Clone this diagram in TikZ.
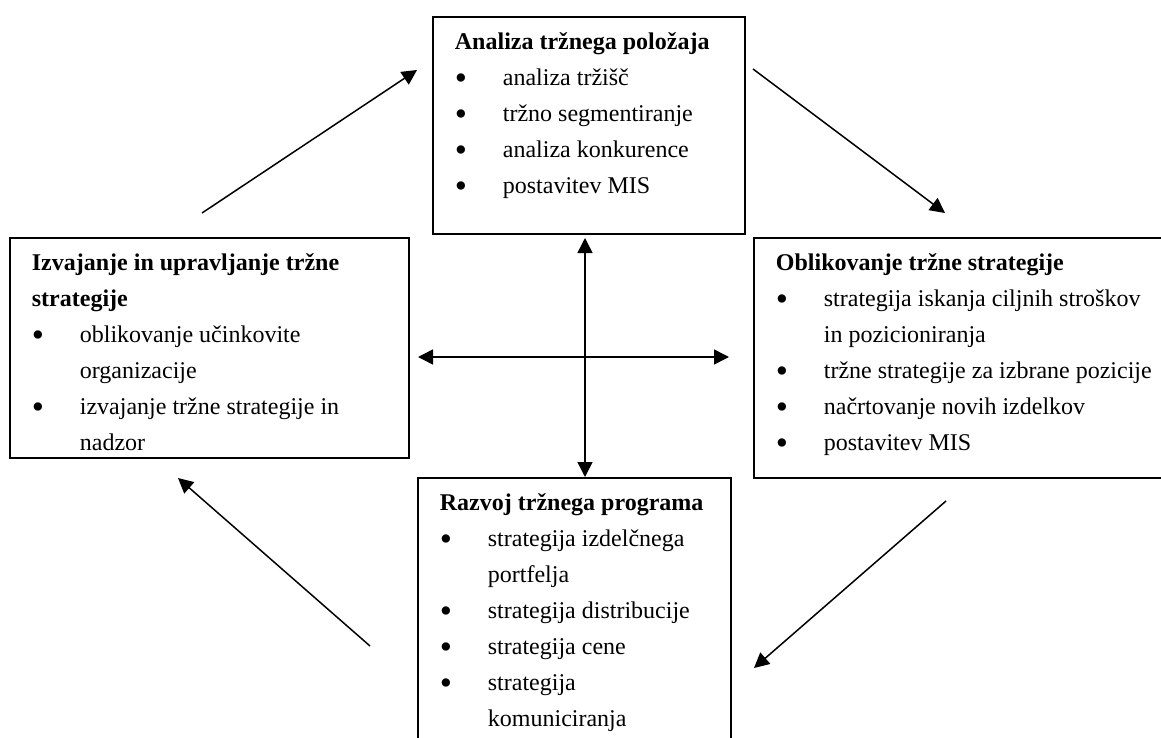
\documentclass[tikz,border=0pt]{standalone}
\usepackage{fontspec}
\setmainfont{Liberation Serif}
\usepackage{graphicx}
\usepackage{tikz}
\usetikzlibrary{arrows.meta}

\newcommand{\tocka}[1]{\par\noindent\hangindent=24pt\makebox[24pt][l]{\raisebox{-0.13em}{\scalebox{1.45}{\textbullet}}}#1\par}

\begin{document}
\begin{tikzpicture}[x=0.5pt,y=-0.5pt,line width=0.75pt,>={Triangle[length=7.5pt,width=7.5pt]},
		okvir/.style={draw,line width=0.9pt,anchor=north west,inner xsep=11pt,inner ysep=0pt,text height=16.5pt,align=flush left,font=\fontsize{12}{18}\selectfont}]
			\useasboundingbox (0,0) rectangle (1161,738);
			
			% okvirji
			
			\node[okvir,text width=134pt,text depth=92pt] (AN) at (432,16) {\textbf{Analiza tržnega položaja}
				\tocka{analiza tržišč}
				\tocka{tržno segmentiranje}
				\tocka{analiza konkurence}
				\tocka{postavitev MIS}};
			\node[okvir,text width=196.5pt,text depth=103.5pt] (OB) at (753,237) {\textbf{Oblikovanje tržne strategije}
				\tocka{strategija iskanja ciljnih stroškov\newline in pozicioniranja}
				\tocka{tržne strategije za izbrane pozicije}
				\tocka{načrtovanje novih izdelkov}
				\tocka{postavitev MIS}};
			\node[okvir,text width=134.5pt,text depth=117.5pt] (RA) at (417,477) {\textbf{Razvoj tržnega programa}
				\tocka{strategija izdelčnega\newline portfelja}
				\tocka{strategija distribucije}
				\tocka{strategija cene}
				\tocka{strategija\newline komuniciranja}};
			\node[okvir,text width=177.5pt,text depth=93.5pt] (IZ) at (9,237) {\textbf{Izvajanje in upravljanje tržne\newline strategije}
				\tocka{oblikovanje učinkovite\newline organizacije}
				\tocka{izvajanje tržne strategije in\newline nadzor}};
			
			% puscice
			
			\coordinate (P1) at (202,213);
			\coordinate (P2) at (417,70);
			\coordinate (P3) at (753,69);
			\coordinate (P4) at (945,213);
			\coordinate (P5) at (946,501);
			\coordinate (P6) at (754,668);
			\coordinate (P7) at (370,646);
			\coordinate (P8) at (178,478);
			\draw[->] (P1) -- (P2);
			\draw[->] (P3) -- (P4);
			\draw[->] (P5) -- (P6);
			\draw[->] (P7) -- (P8);
			
			\coordinate (K1) at (585,238);
			\coordinate (K2) at (585,477);
			\coordinate (K3) at (418,357);
			\coordinate (K4) at (729,357);
			\draw[<->] (K1) -- (K2);
			\draw[<->] (K3) -- (K4);
		\end{tikzpicture}
\end{document}
